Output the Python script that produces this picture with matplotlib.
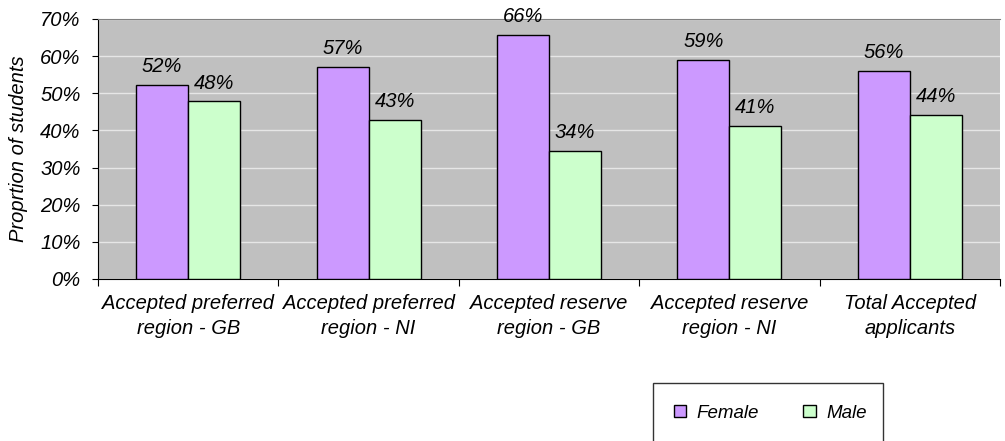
import matplotlib
matplotlib.use("Agg")
import matplotlib.pyplot as plt
from matplotlib.patches import Rectangle, Patch
import numpy as np

categories = ["Accepted preferred\nregion - GB", "Accepted preferred\nregion - NI",
              "Accepted reserve\nregion - GB", "Accepted reserve\nregion - NI",
              "Total Accepted\napplicants"]
female = [52.2, 57.1, 65.6, 58.9, 55.9]
male = [47.8, 42.9, 34.4, 41.1, 44.1]
female_labels = ["52%", "57%", "66%", "59%", "56%"]
male_labels = ["48%", "43%", "34%", "41%", "44%"]
yticks = [0, 10, 20, 30, 40, 50, 60, 70]
ytick_labels = ["0%", "10%", "20%", "30%", "40%", "50%", "60%", "70%"]

plt.rcParams['font.family'] = ['Liberation Sans', 'DejaVu Sans']
fs = 14.5

fig = plt.figure(figsize=(10.05, 4.41), dpi=100)
ax = fig.add_axes([98/1005, 1 - 279/441, 902/1005, 260/441])
ax.set_facecolor('#c0c0c0')

x = np.arange(len(categories))
w = 0.288
fcol = '#cc99ff'
mcol = '#ccffcc'
ax.bar(x - w/2, female, w, color=fcol, edgecolor='black', linewidth=1, zorder=3)
ax.bar(x + w/2, male, w, color=mcol, edgecolor='black', linewidth=1, zorder=3)

for xi, v, lab in zip(x - w/2, female, female_labels):
    ax.text(xi, v + 2.4, lab, ha='center', va='bottom', fontsize=fs, style='italic', zorder=4)
for xi, v, lab in zip(x + w/2, male, male_labels):
    ax.text(xi, v + 2.4, lab, ha='center', va='bottom', fontsize=fs, style='italic', zorder=4)

ax.set_xlim(-0.5, len(categories) - 0.5)
ax.set_ylim(0, 70)
ax.set_yticks(yticks)
ax.set_yticklabels(ytick_labels, fontsize=fs, style='italic')
ax.yaxis.grid(True, color='#e6e6e6', linewidth=1.0, zorder=0)
ax.set_axisbelow(True)

ax.set_xticks(np.arange(len(categories) + 1) - 0.5, minor=False)
ax.set_xticklabels([''] * (len(categories) + 1))
ax.set_xticks(x, minor=True)
ax.set_xticklabels(categories, minor=True, fontsize=fs, style='italic', linespacing=1.35)
ax.tick_params(axis='x', which='minor', length=0, pad=11)
ax.tick_params(axis='x', which='major', length=5, direction='out')
ax.tick_params(axis='y', length=4.5, direction='out', pad=8)

ax.spines['right'].set_visible(False)
ax.spines['top'].set_color('#808080')
ax.spines['left'].set_color('black')
ax.spines['bottom'].set_color('black')

ax.set_ylabel('Proprtion of students', fontsize=fs, style='italic', labelpad=9)

# legend box
rect = Rectangle((653/1005, -0.1), 230/1005, 0.1 + (441-383)/441, transform=fig.transFigure,
                 facecolor='white', edgecolor='#333333', linewidth=1, clip_on=False)
fig.patches.append(rect)
handles = [Patch(facecolor=fcol, edgecolor='black'), Patch(facecolor=mcol, edgecolor='black')]
fig.legend(handles, ['Female', 'Male'], loc='center', bbox_to_anchor=(770/1005, 1 - 413/441),
           ncol=2, frameon=False, prop={'size': 13.5, 'style': 'italic'},
           handlelength=0.65, handleheight=0.65, columnspacing=2.4, handletextpad=0.55)

fig.savefig('out.png', dpi=100)
